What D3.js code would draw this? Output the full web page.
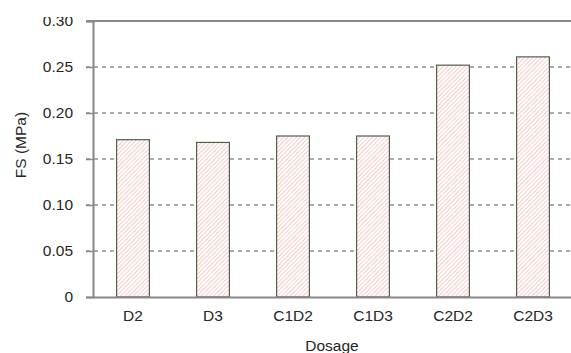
<!DOCTYPE html>
<html>
<head>
<meta charset="utf-8">
<script src="https://cdn.jsdelivr.net/npm/d3@7"></script>
<style>
  html, body { margin: 0; padding: 0; background: #fff; }
  svg { display: block; }
  text { font-family: Arial, "Liberation Sans", sans-serif; fill: #262626; }
</style>
</head>
<body>
<svg id="chart" width="571" height="353"></svg>
<script>
// Flexural strength by dosage
const categories = ["D2", "D3", "C1D2", "C1D3", "C2D2", "C2D3"];
const fsValues = [0.171, 0.168, 0.175, 0.175, 0.252, 0.261];
const yTicks = [0, 0.05, 0.10, 0.15, 0.20, 0.25, 0.30];
const yTickLabels = ["0", "0.05", "0.10", "0.15", "0.20", "0.25", "0.30"];

const svg = d3.select("#chart");
const margin = { left: 93, top: 21, right: -2, bottom: 56 };
const W = 571, H = 353;
const fontSize = "15.5px";

const defs = svg.append("defs");
defs.append("clipPath").attr("id", "page")
  .append("rect").attr("x", 0).attr("y", 17).attr("width", W).attr("height", H - 17);

const hatch = defs.append("pattern")
  .attr("id", "hatch")
  .attr("patternUnits", "userSpaceOnUse")
  .attr("width", 3).attr("height", 3)
  .attr("patternTransform", "rotate(45)");
hatch.append("rect").attr("width", 3).attr("height", 3).attr("fill", "#fff");
hatch.append("line")
  .attr("x1", 0).attr("y1", 0).attr("x2", 0).attr("y2", 3)
  .attr("stroke", "#f4a0a0").attr("stroke-width", 1.1);

const g = svg.append("g").attr("clip-path", "url(#page)");

const x = d3.scaleBand()
  .domain(categories)
  .range([margin.left, W - margin.right])
  .paddingInner(0.59)
  .paddingOuter(0.295);

const y = d3.scaleLinear()
  .domain([0, 0.30])
  .range([H - margin.bottom, margin.top]);

// dashed grid lines
g.append("g")
  .selectAll("line")
  .data(yTicks.filter(v => v > 0 && v < 0.30))
  .join("line")
  .attr("x1", margin.left - 7).attr("x2", W)
  .attr("y1", d => y(d)).attr("y2", d => y(d))
  .attr("stroke", "#5a5a5a")
  .attr("stroke-width", 1.2)
  .attr("stroke-dasharray", "4,4");

// bars
g.append("g")
  .selectAll("rect")
  .data(categories.map((c, i) => ({ c, v: fsValues[i] })))
  .join("rect")
  .attr("x", d => x(d.c))
  .attr("y", d => y(d.v))
  .attr("width", x.bandwidth())
  .attr("height", d => y(0) - y(d.v))
  .attr("fill", "url(#hatch)")
  .attr("stroke", "#4e6248")
  .attr("stroke-width", 1.2);

// y axis
const yAxis = g.append("g")
  .attr("transform", `translate(${margin.left},0)`)
  .call(d3.axisLeft(y).tickValues(yTicks)
    .tickFormat((d, i) => yTickLabels[i]).tickSize(7).tickPadding(13));
yAxis.select(".domain").attr("stroke", "#888").attr("stroke-width", 2);
yAxis.selectAll(".tick line").attr("stroke", "#888").attr("stroke-width", 1.5);
yAxis.selectAll(".tick text").style("font-size", fontSize).attr("fill", "#262626");

// top frame line
g.append("line")
  .attr("x1", margin.left - 7).attr("x2", W)
  .attr("y1", y(0.30)).attr("y2", y(0.30))
  .attr("stroke", "#888").attr("stroke-width", 2);

// x axis
const xAxis = g.append("g")
  .attr("transform", `translate(0,${y(0)})`)
  .call(d3.axisBottom(x).tickSize(0).tickPadding(13));
xAxis.select(".domain").attr("stroke", "#888").attr("stroke-width", 2);
xAxis.selectAll(".tick text").style("font-size", fontSize).attr("fill", "#262626");

// axis titles
g.append("text")
  .attr("transform", "translate(26,145) rotate(-90)")
  .attr("text-anchor", "middle")
  .style("font-size", fontSize)
  .text("FS (MPa)");

g.append("text")
  .attr("x", 332).attr("y", 351)
  .attr("text-anchor", "middle")
  .style("font-size", fontSize)
  .text("Dosage");
</script>
</body>
</html>
